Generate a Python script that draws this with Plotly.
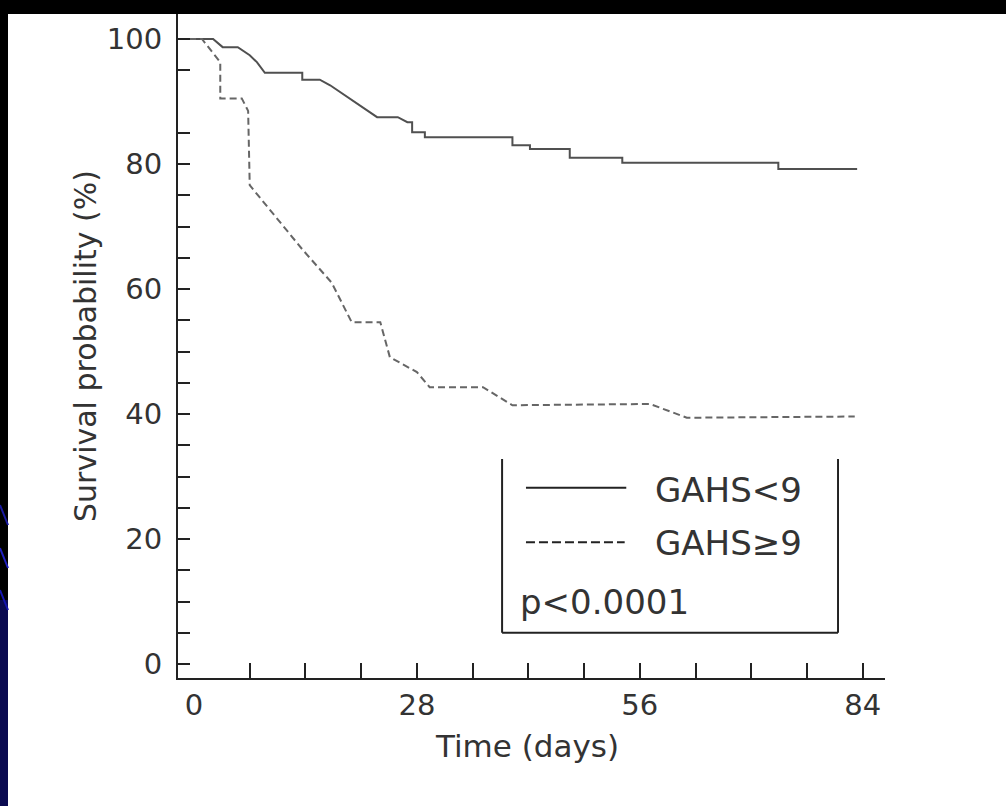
import plotly.graph_objects as go

# ---- data ----
low_days = [-2, 2.4, 3.6, 5.5, 7.0, 7.9, 8.9, 13.6, 13.6, 15.8, 17.1, 19.6, 21.2, 23.0, 25.6, 26.8,
            27.4, 27.4, 29.0, 29.0, 40.0, 40.0, 42.2, 42.2, 47.2, 47.2, 53.8, 53.8, 73.4, 73.4, 83.3]
low_surv = [100, 100, 98.7, 98.7, 97.4, 96.3, 94.6, 94.6, 93.5, 93.5, 92.6, 90.5, 89.1, 87.5, 87.5, 86.7,
            86.7, 85.1, 85.1, 84.3, 84.3, 83.0, 83.0, 82.4, 82.4, 81.0, 81.0, 80.2, 80.2, 79.2, 79.2]

high_days = [-2, 1.0, 3.3, 3.3, 6.0, 6.8, 7.0, 13.7, 17.3, 19.8, 23.4, 24.6, 28.0, 29.6, 36.3, 40.0,
             57.3, 61.9, 83.0]
high_surv = [100, 100, 96.3, 90.5, 90.5, 88.5, 76.6, 66.2, 61.0, 54.7, 54.7, 49.1, 46.7, 44.3, 44.3, 41.4,
             41.6, 39.4, 39.6]

series_names = ["GAHS<9", "GAHS≥9"]
x_label_vals = [0, 28, 56, 84]
x_tick_vals = [7, 14, 21, 28, 35, 42, 49, 56, 63, 70, 77, 84]
y_tick_vals = [0, 5, 10, 15, 20, 25, 30, 35, 40, 45, 50, 55, 60, 65, 70, 75, 80, 85, 95, 100]
y_label_vals = [0, 20, 40, 60, 80, 100]
p_text = "p<0.0001"
x_title = "Time (days)"
y_title = "Survival probability (%)"

FONT = "DejaVu Sans"
TXT = "#333333"
AX = "#222222"

W, H = 1006, 806
# plot area in page pixels
PL, PR, PT, PB = 178, 885, 14, 678
L, R, T, B = PL, W - PR, PT, H - PB
pw, ph = W - L - R, H - T - B


def px(xp):  # page x -> paper
    return (xp - L) / pw


def py(yp):  # page y -> paper
    return (H - B - yp) / ph


fig = go.Figure()
fig.add_trace(go.Scatter(x=low_days, y=low_surv, mode="lines", name=series_names[0],
                         line=dict(color="#505050", width=2), showlegend=False))
fig.add_trace(go.Scatter(x=high_days, y=high_surv, mode="lines", name=series_names[1], xaxis="x2",
                         line=dict(color="#666666", width=2, dash="7px,4px"), showlegend=False))

xr = [-2.01, 86.8]
yr = [-2.24, 104.0]

fig.update_layout(
    width=W, height=H,
    margin=dict(l=L, r=R, t=T, b=B, pad=0),
    paper_bgcolor="white", plot_bgcolor="white",
    font=dict(family=FONT, color=TXT, size=29),
    xaxis=dict(range=xr, tickvals=x_label_vals, ticks="", showgrid=False, zeroline=False,
               showline=True, linecolor=AX, linewidth=2, tickfont=dict(size=29, color=TXT),
               ticklabelstandoff=0),
    xaxis2=dict(range=xr, overlaying="x", anchor="y", side="bottom", tickvals=x_tick_vals,
                ticks="inside", ticklen=15, tickwidth=2, tickcolor=AX, showticklabels=False,
                showgrid=False, zeroline=False, showline=False),
    yaxis=dict(range=yr, tickvals=y_tick_vals,
               ticktext=[str(v) if v in y_label_vals else "" for v in y_tick_vals],
               ticks="inside", ticklen=12, tickwidth=2, tickcolor=AX, showgrid=False,
               zeroline=False, showline=True, linecolor=AX, linewidth=2,
               tickfont=dict(size=29, color=TXT), ticklabelstandoff=8),
    showlegend=False,
)

shapes = []
# slide background bands (page coords)
shapes.append(dict(type="rect", xref="paper", yref="paper", x0=px(0), x1=px(W),
                   y0=py(14), y1=py(0), fillcolor="black", line=dict(width=0), layer="above"))
shapes.append(dict(type="rect", xref="paper", yref="paper", x0=px(0), x1=px(8),
                   y0=py(H), y1=py(0), fillcolor="black", line=dict(width=0), layer="above"))
shapes.append(dict(type="rect", xref="paper", yref="paper", x0=px(0), x1=px(8),
                   y0=py(H), y1=py(600), fillcolor="#0a0a50", line=dict(width=0), layer="above"))
for (ya, yb, col) in [(505, 525, "#1a1aa0"), (548, 568, "#2020c0"), (590, 610, "#1515b0")]:
    shapes.append(dict(type="line", xref="paper", yref="paper", x0=px(0), x1=px(8),
                       y0=py(ya), y1=py(yb), line=dict(color=col, width=2), layer="above"))

# legend box (open at top)
bx0, bx1, by0, by1 = 38.7, 80.9, 5.0, 32.8
shapes.append(dict(type="line", xref="x", yref="y", x0=bx0, x1=bx0, y0=by0, y1=by1, line=dict(color=AX, width=2)))
shapes.append(dict(type="line", xref="x", yref="y", x0=bx1, x1=bx1, y0=by0, y1=by1, line=dict(color=AX, width=2)))
shapes.append(dict(type="line", xref="x", yref="y", x0=bx0, x1=bx1, y0=by0, y1=by0, line=dict(color=AX, width=2)))
# legend samples
shapes.append(dict(type="line", xref="x", yref="y", x0=41.7, x1=54.3, y0=28.2, y1=28.2,
                   line=dict(color="#222222", width=2)))
shapes.append(dict(type="line", xref="x", yref="y", x0=41.7, x1=54.1, y0=19.5, y1=19.5,
                   line=dict(color="#222222", width=2, dash="9px,4px")))
fig.update_layout(shapes=shapes)

ann = []
ann.append(dict(x=57.7, y=27.8, xref="x", yref="y", text=series_names[0], showarrow=False,
                xanchor="left", yanchor="middle", font=dict(size=34, color=TXT, family=FONT)))
ann.append(dict(x=57.7, y=19.4, xref="x", yref="y", text=series_names[1], showarrow=False,
                xanchor="left", yanchor="middle", font=dict(size=34, color=TXT, family=FONT)))
ann.append(dict(x=40.7, y=9.9, xref="x", yref="y", text=p_text, showarrow=False,
                xanchor="left", yanchor="middle", font=dict(size=34, color=TXT, family=FONT)))
ann.append(dict(x=px(527), y=py(746), xref="paper", yref="paper", text=x_title, showarrow=False,
                xanchor="center", yanchor="middle", font=dict(size=31, color=TXT, family=FONT)))
ann.append(dict(x=px(85), y=py(346), xref="paper", yref="paper", text=y_title, showarrow=False,
                textangle=-90, xanchor="center", yanchor="middle",
                font=dict(size=30, color=TXT, family=FONT)))
fig.update_layout(annotations=ann)

fig.write_html("out.html", config={"displayModeBar": False},
               post_script="document.body.style.margin='0';document.body.style.overflow='hidden';")
